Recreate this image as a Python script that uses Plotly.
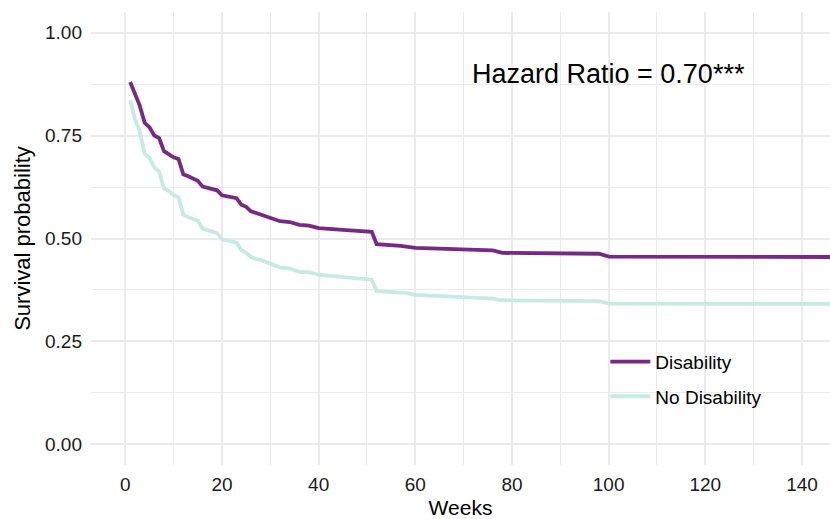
import plotly.graph_objects as go

# Disability curve (week, survival probability)
dis_weeks = [1, 2, 3, 4, 5, 6, 7, 8, 9, 10, 11, 12, 13, 14, 15, 16, 17, 18, 19, 20,
             22, 23, 24, 25, 26, 28, 30, 32, 34, 36, 38, 40, 45, 50, 51, 52, 57, 60,
             70, 76, 78, 90, 98, 100, 150]
dis_surv = [0.880, 0.850, 0.822, 0.781, 0.770, 0.750, 0.744, 0.712, 0.705, 0.697,
            0.693, 0.656, 0.651, 0.646, 0.640, 0.626, 0.623, 0.620, 0.617, 0.605,
            0.600, 0.598, 0.582, 0.577, 0.566, 0.558, 0.551, 0.542, 0.540, 0.533,
            0.531, 0.525, 0.521, 0.518, 0.516, 0.486, 0.482, 0.477, 0.474, 0.471,
            0.465, 0.464, 0.463, 0.456, 0.455]

# No Disability curve
nod_weeks = [1, 2, 3, 4, 5, 6, 7, 8, 9, 10, 11, 12, 13, 14, 15, 16, 17, 18, 19, 20,
             22, 23, 24, 25, 26, 27, 28, 30, 32, 34, 36, 38, 40, 45, 50, 51, 52, 58,
             60, 70, 76, 78, 90, 98, 100, 150]
nod_surv = [0.836, 0.790, 0.760, 0.706, 0.696, 0.672, 0.662, 0.622, 0.615, 0.605,
            0.600, 0.558, 0.552, 0.547, 0.543, 0.524, 0.520, 0.516, 0.513, 0.498,
            0.493, 0.490, 0.472, 0.465, 0.455, 0.450, 0.448, 0.440, 0.430, 0.427,
            0.419, 0.418, 0.412, 0.406, 0.402, 0.400, 0.372, 0.368, 0.363, 0.358,
            0.354, 0.350, 0.349, 0.348, 0.342, 0.341]

x_ticks = [0, 20, 40, 60, 80, 100, 120, 140]
y_ticks = [0.0, 0.25, 0.5, 0.75, 1.0]
y_tick_labels = ["0.00", "0.25", "0.50", "0.75", "1.00"]
annotation_text = "Hazard Ratio = 0.70***"

FONT = "Liberation Sans, Arial, Helvetica, sans-serif"
GRID = "#EBEBEB"

fig = go.Figure()
fig.add_trace(go.Scatter(x=dis_weeks, y=dis_surv, mode="lines", name="Disability",
                         line=dict(color="#762A83", width=3.8), legendgroup="a"))
fig.add_trace(go.Scatter(x=nod_weeks, y=nod_surv, mode="lines", name="No Disability",
                         line=dict(color="#C7EAE5", width=3.8), legendgroup="b"))

fig.add_annotation(x=100, y=0.90, xref="x", yref="y", text=annotation_text,
                   showarrow=False, font=dict(family=FONT, size=27, color="black"))

fig.update_layout(
    width=830, height=519,
    margin=dict(l=91, r=0, t=12, b=54, autoexpand=False),
    paper_bgcolor="white", plot_bgcolor="white",
    font=dict(family=FONT, color="black"),
    showlegend=True,
    legend=dict(x=0.696, y=0.27, xanchor="left", yanchor="top",
                font=dict(family=FONT, size=19, color="black"),
                bgcolor="rgba(0,0,0,0)", tracegroupgap=7, itemwidth=40),
    xaxis=dict(range=[-7.1, 145.8], tickvals=x_ticks, showgrid=True, automargin=False,
               gridcolor=GRID, gridwidth=1.6, zeroline=False, showline=False,
               ticks="", tickfont=dict(size=19, color="#1a1a1a"),
               ticklabelstandoff=6,
               minor=dict(dtick=10, tick0=0, showgrid=True, gridcolor=GRID, gridwidth=0.9),
               title=dict(text="Weeks", font=dict(size=21), standoff=8)),
    yaxis=dict(range=[-0.05, 1.05], tickvals=y_ticks, ticktext=y_tick_labels,
               showgrid=True, gridcolor=GRID, gridwidth=1.6, zeroline=False, automargin=False,
               showline=False, ticks="", tickfont=dict(size=19, color="#1a1a1a"),
               ticklabelstandoff=8,
               minor=dict(dtick=0.125, tick0=0, showgrid=True, gridcolor=GRID, gridwidth=0.9),
               title=dict(text="Survival probability", font=dict(size=22), standoff=8)),
)

fig.write_html("out.html", config={"displayModeBar": False},
               post_script="document.body.style.margin='0';")
